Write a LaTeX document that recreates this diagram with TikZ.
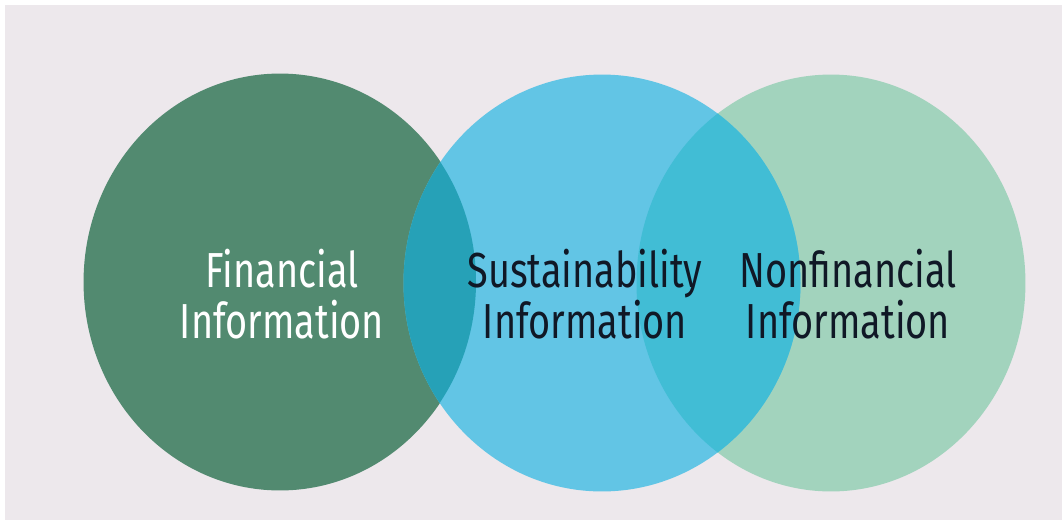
\documentclass[tikz,border=0pt]{standalone}
\usepackage{fontspec}
\setmainfont{Fira Sans}
\newfontfamily\labelfont[FakeStretch=0.77]{Fira Sans}
\usetikzlibrary{shapes.geometric}
\definecolor{bgcol}{HTML}{EDE8EC}
\definecolor{finc}{HTML}{528A70}
\definecolor{susc}{HTML}{62C5E5}
\definecolor{nonc}{HTML}{A2D3BD}
\definecolor{ovA}{HTML}{26A1B7}
\definecolor{ovB}{HTML}{41BDD5}
\definecolor{darktxt}{HTML}{101826}
\tikzset{
  circ/.style={ellipse, draw=none, inner sep=0pt, minimum width=7.86cm, minimum height=8.34cm},
  lbl/.style={align=center, font=\labelfont\fontsize{28}{29}\selectfont, inner sep=0pt}
}
\begin{document}
\begin{tikzpicture}[x=0.02cm,y=-0.02cm]
\useasboundingbox (0,0) rectangle (1063,525);
\fill[white] (0,0) rectangle (1063,525);
\fill[bgcol] (5,5) rectangle (1062,520);
\node[circ, fill=finc] (fin) at (280,282) {};
\node[circ, fill=nonc, minimum width=7.78cm] (non) at (831,283) {};
\node[circ, fill=susc, minimum width=7.94cm] (sus) at (602,283) {};
\begin{scope}
  \clip (280,282) ellipse [x radius=196, y radius=208.5];
  \fill[ovA] (602,283) ellipse [x radius=198.5, y radius=208.5];
\end{scope}
\begin{scope}
  \clip (831,283) ellipse [x radius=194.5, y radius=208.5];
  \fill[ovB] (602,283) ellipse [x radius=198.5, y radius=208.5];
\end{scope}
\node[lbl, text=white] (fint) at (282,294) {Financial\\Information};
\node[lbl, text=darktxt] (sust) at (585,294) {Sustainability\\Information};
\node[lbl, text=darktxt] (nont) at (848,294) {Nonfinancial\\Information};
\end{tikzpicture}
\end{document}
